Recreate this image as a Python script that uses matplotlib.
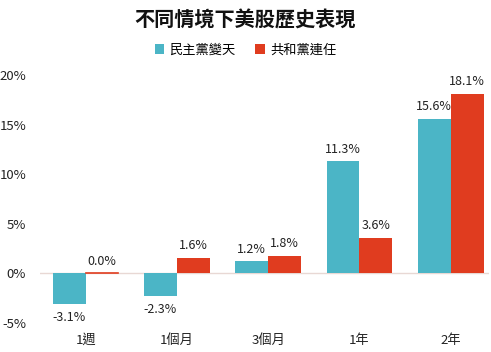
import matplotlib
matplotlib.use("Agg")
import matplotlib.pyplot as plt
import numpy as np

plt.rcParams['font.family'] = ['Noto Sans CJK TC', 'DejaVu Sans']

categories = ["1週", "1個月", "3個月", "1年", "2年"]
dem = [-3.1, -2.3, 1.2, 11.3, 15.6]
rep = [0.0, 1.6, 1.8, 3.6, 18.1]
series_names = ["民主黨變天", "共和黨連任"]
yticks = [-5, 0, 5, 10, 15, 20]

c_dem = "#4BB5C6"
c_rep = "#E03C1F"

W, H = 491, 352
fig = plt.figure(figsize=(W/100, H/100), dpi=100)
ax = fig.add_axes([40/W, (H-323)/H, (489-40)/W, (323-75)/H])

x = np.arange(len(categories))
bw = 0.36
b1 = ax.bar(x - bw/2, dem, bw, color=c_dem, label=series_names[0])
b2 = ax.bar(x + bw/2, rep, bw, color=c_rep, label=series_names[1])
# visible thin line for zero values
for xi, v in zip(x, rep):
    if v == 0:
        ax.plot([xi, xi + bw], [0, 0], color=c_rep, lw=1.2, zorder=3)

ax.axhline(0, color="#e8d8d4", lw=1, zorder=0)

for bars, vals in ((b1, dem), (b2, rep)):
    for b, v in zip(bars, vals):
        cx = b.get_x() + b.get_width()/2
        if v >= 0:
            ax.annotate(f"{v:.1f}%", (cx, v), xytext=(0, 4), textcoords="offset points",
                        ha="center", va="bottom", fontsize=9, color="#222222")
        else:
            ax.annotate(f"{v:.1f}%", (cx, v), xytext=(0, -5), textcoords="offset points",
                        ha="center", va="top", fontsize=9, color="#222222")

ax.set_xlim(-0.5, 4.42)
ax.set_ylim(-5, 20)
ax.set_yticks(yticks)
ax.set_yticklabels([f"{t}%" for t in yticks], fontsize=9.5, color="#222222")
ax.set_xticks(x)
ax.set_xticklabels(categories, fontsize=9.5, color="#222222")
ax.tick_params(axis='both', length=0)
ax.tick_params(axis='x', pad=8)
ax.tick_params(axis='y', pad=10)
for s in ax.spines.values():
    s.set_visible(False)

fig.text(0.5, (H-20)/H, "不同情境下美股歷史表現", ha="center", va="center",
         fontsize=14.5, fontweight="bold", color="#111111")
fig.legend(handles=[b1, b2], labels=series_names, loc="center",
           bbox_to_anchor=(0.5, (H-50)/H), ncol=2, frameon=False, fontsize=9.5,
           handlelength=0.7, handleheight=0.7, handletextpad=0.4, columnspacing=1.5)

fig.savefig("out.png", dpi=100, facecolor="white")
